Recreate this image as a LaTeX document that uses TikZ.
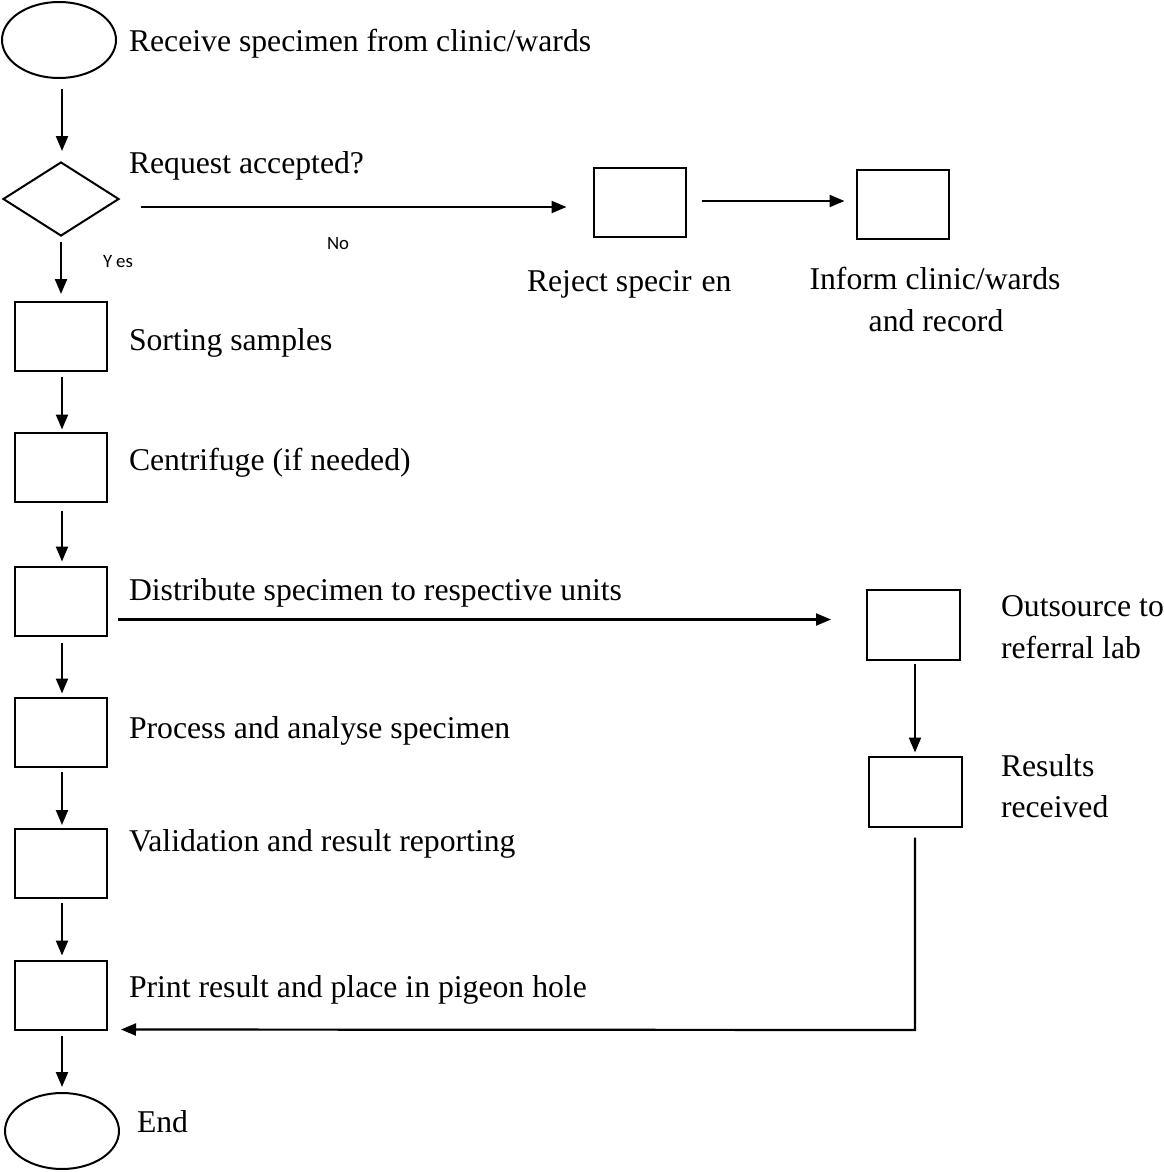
\documentclass[tikz,border=0pt]{standalone}
\usepackage{fontspec}
\setmainfont{Liberation Serif}
\newfontfamily\labfont{Carlito}
\usetikzlibrary{shapes.geometric,arrows.meta,calc}
\begin{document}
\begin{tikzpicture}[x=1pt,y=-1pt,
  line width=2pt,
  box/.style={draw, line width=2pt, minimum width=92pt, minimum height=69pt, inner sep=0pt},
  term/.style={draw, ellipse, line width=2pt, minimum width=114pt, minimum height=76pt, inner sep=0pt},
  dec/.style={draw, diamond, line width=2pt, aspect=1.57, minimum width=116pt, minimum height=74pt, inner sep=0pt},
  txt/.style={anchor=base west, inner sep=0pt, font=\fontsize{31.7}{38}\selectfont},
  ctxt/.style={anchor=base, inner sep=0pt, font=\fontsize{31.7}{38}\selectfont},
  lab/.style={anchor=base west, inner sep=0pt, font=\labfont\fontsize{18.8}{22}\selectfont},
  arr/.style={-{Triangle[length=15pt,width=12pt]}, line width=2.2pt}
]
\useasboundingbox (0,0) rectangle (1163,1172);

% main column
\node[term] (start) at (59,40) {};
\node[dec] (dec) at (61,199) {};
\node[box] (sort) at (61,336.5) {};
\node[box] (cent) at (61,467) {};
\node[box] (dist) at (61,601) {};
\node[box] (proc) at (61,732) {};
\node[box] (valid) at (61,863.5) {};
\node[box] (print) at (61,995) {};
\node[term] (end) at (62,1131) {};

% right side
\node[box] (reject) at (639.5,202.5) {};
\node[box] (inform) at (902.5,204) {};
\node[box, minimum width=93pt, minimum height=70pt] (out) at (913.5,625) {};
\node[box, minimum width=93pt, minimum height=70pt] (res) at (915.5,791.5) {};

% texts
\node[txt] (tstart) at (128,52) {Receive specimen from clinic/wards};
\node[txt] (tdec) at (128,173) {Request accepted?};
\node[txt] (tsort) at (128,350) {Sorting samples};
\node[txt] (tcent) at (128,470) {Centrifuge (if needed)};
\node[txt] (tdist) at (128,600) {Distribute specimen to respective units};
\node[txt] (tproc) at (128,738) {Process and analyse specimen};
\node[txt] (tvalid) at (128,851) {Validation and result reporting};
\node[txt] (tprint) at (128,997) {Print result and place in pigeon hole};
\node[txt] (tend) at (136,1132) {End};
\node[txt] (treject) at (526,291) {Reject specir\hspace{10pt}en};
\node[ctxt] (tinform1) at (935,289) {Inform clinic/wards};
\node[ctxt] (tinform2) at (936,331) {and record};
\node[txt] (tout1) at (1000,616) {Outsource to};
\node[txt] (tout2) at (1000,658) {referral lab};
\node[txt] (tres1) at (1000,776) {Results};
\node[txt] (tres2) at (1000,817) {received};
\node[lab] (yes) at (102,267) {Y\hspace{4pt}es};
\node[lab] (no) at (326,249) {No};

% connectors
\draw[arr] ($(start.south)+(3,10)$) -- ($(dec.north)+(1,-10)$);
\draw[arr] ($(dec.south)+(0,5)$) -- ($(sort.north)+(0,-7)$);
\draw[arr] ($(sort.south)+(1,5)$) -- ($(cent.north)+(1,-2)$);
\draw[arr] ($(cent.south)+(1,8)$) -- ($(dist.north)+(1,-4)$);
\draw[arr] ($(dist.south)+(1,6)$) -- ($(proc.north)+(1,-3)$);
\draw[arr] ($(proc.south)+(1,4)$) -- ($(valid.north)+(1,-3)$);
\draw[arr] ($(valid.south)+(1,4)$) -- ($(print.north)+(1,-4)$);
\draw[arr] ($(print.south)+(1,5)$) -- ($(end.north)+(0,-5)$);

\draw[arr] ($(dec.east)+(21,8)$) -- ($(reject.west)+(-26,4.5)$);
\draw[arr] ($(reject.east)+(15,-1.5)$) -- ($(inform.west)+(-11,-3)$);
\draw[arr] ($(dist.east)+(10,18.5)$) -- ($(out.west)+(-35,-5.5)$);
\draw[arr] ($(out.south)+(1.5,3)$) -- ($(res.north)+(-0.5,-3)$);
\coordinate (corner) at (915,1030);
\draw[arr] ($(res.south)+(-0.5,10)$) -- (corner) -- ($(print.east)+(13,34.5)$);
\end{tikzpicture}
\end{document}
